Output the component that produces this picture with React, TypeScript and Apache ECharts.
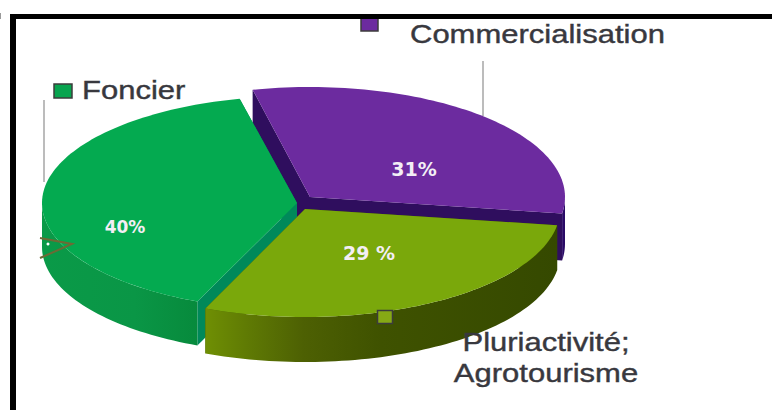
import React, { useEffect, useRef } from "react";
import * as echarts from "echarts";

// Shares of each theme, in the clockwise order they sit around the pie.
const categories = ["Commercialisation", "Pluriactivité;\nAgrotourisme", "Foncier"];
const shares = [31, 29, 40];
const valueLabels = ["31%", "29 %", "40%"];

// Back slices are painted first so the nearer ones overlap them.
const paintOrder = [0, 2, 1];
const firstSliceAngle = -103;

const topColors = ["#6c2b9f", "#7aa80b", "#04aa50"];
const radialColors = ["#2f0e5e", "#3f5200", "#00895a"];
const rimStops = [
  [[0, "#2a0a66"], [1, "#2a0a66"]],
  [[0, "#6f8f04"], [0.12, "#5f7a04"], [0.28, "#4d6003"], [0.5, "#3f5200"], [1, "#354900"]],
  [[0, "#0a9a48"], [0.6, "#0a9646"], [1, "#078a3c"]],
];

// Exploded position and on-screen size of each slice.
const sliceCx = [310, 305, 297];
const sliceCy = [197, 209, 203];
const radiusX = [255, 255, 255];
const radiusY = [110, 108, 107];
const depth = [47, 45, 44];
const labelX = [414, 369, 125];
const labelY = [169, 253, 227];
const labelSize = [19, 19, 17];

function sliceAngles(): [number, number][] {
  const total = shares.reduce((a, b) => a + b, 0);
  let from = firstSliceAngle;
  return shares.map((s) => {
    const to = from + (s / total) * 360;
    const span: [number, number] = [from, to];
    from = to;
    return span;
  });
}

function arcPoints(i: number, a: number, b: number, dy: number): number[][] {
  const pts: number[][] = [];
  const steps = Math.max(2, Math.ceil(Math.abs(b - a) / 1.5));
  for (let k = 0; k <= steps; k++) {
    const t = ((a + ((b - a) * k) / steps) * Math.PI) / 180;
    pts.push([sliceCx[i] + radiusX[i] * Math.cos(t), sliceCy[i] + radiusY[i] * Math.sin(t) + dy]);
  }
  return pts;
}

function renderSlice(params: any, api: any) {
  const i = paintOrder[params.dataIndex];
  const from = api.value(0) as number;
  const to = api.value(1) as number;
  const apex = [sliceCx[i], sliceCy[i]];
  const d = depth[i];
  const children: any[] = [];

  // Cut faces along the two radial edges.
  for (const edge of [from, to]) {
    const rim = arcPoints(i, edge, edge, 0)[0];
    children.push({
      type: "polygon",
      shape: { points: [apex, rim, [rim[0], rim[1] + d], [apex[0], apex[1] + d]] },
      style: { fill: radialColors[i] },
    });
  }

  // Outer wall: only the front half of the ellipse faces the viewer.
  const frontFrom = Math.max(from, 0);
  const frontTo = Math.min(to, 180);
  if (frontTo > frontFrom) {
    const upper = arcPoints(i, frontFrom, frontTo, 0);
    const lower = arcPoints(i, frontFrom, frontTo, d).reverse();
    children.push({
      type: "polygon",
      shape: { points: upper.concat(lower) },
      style: {
        fill: {
          type: "linear",
          x: 0,
          y: 0,
          x2: 1,
          y2: 0,
          colorStops: rimStops[i].map(([offset, color]) => ({ offset, color })),
        },
      },
    });
  }

  // Top surface.
  children.push({
    type: "polygon",
    shape: { points: [apex as number[]].concat(arcPoints(i, from, to, 0)) },
    style: { fill: topColors[i] },
  });

  children.push({
    type: "text",
    x: labelX[i],
    y: labelY[i],
    style: {
      text: valueLabels[i],
      fill: "#f3eef5",
      font: `bold ${labelSize[i]}px "DejaVu Sans", sans-serif`,
      textAlign: "center",
      textVerticalAlign: "middle",
    },
  });

  return { type: "group", children };
}

function legendText(text: string, x: number, y: number, align: string) {
  return {
    type: "text",
    x,
    y,
    z: 20,
    scaleX: 1.24,
    style: {
      text,
      fill: "#38383e",
      stroke: "#38383e",
      lineWidth: 0.4,
      font: '25px "Liberation Sans", Arial, sans-serif',
      lineHeight: 31,
      textAlign: align,
      textVerticalAlign: "middle",
    },
  };
}

function legendSwatch(x: number, y: number, w: number, h: number, fill: string) {
  return {
    type: "rect",
    z: 15,
    shape: { x, y, width: w, height: h },
    style: { fill, stroke: "#3c3c3c", lineWidth: 1.5 },
  };
}

function leader(x: number, y1: number, y2: number) {
  return {
    type: "line",
    z: 5,
    shape: { x1: x, y1, x2: x, y2 },
    style: { stroke: "#bcbcbc", lineWidth: 2 },
  };
}

export default function App() {
  const ref = useRef<HTMLDivElement>(null);

  useEffect(() => {
    if (!ref.current) return;
    const chart = echarts.init(ref.current, undefined, { renderer: "svg" });
    const angles = sliceAngles();
    chart.setOption({
      animation: false,
      backgroundColor: "#ffffff",
      series: [
        {
          type: "custom",
          coordinateSystem: "none",
          silent: true,
          z: 10,
          renderItem: renderSlice,
          data: paintOrder.map((i) => ({ name: categories[i], value: angles[i] })),
        },
      ],
      graphic: {
        elements: [
          // Frame drawn around the figure: only its top and left sides are in view.
          { type: "rect", z: 30, shape: { x: 10, y: 14, width: 762, height: 5 }, style: { fill: "#000000" } },
          { type: "rect", z: 30, shape: { x: 10, y: 14, width: 6, height: 396 }, style: { fill: "#000000" } },
          { type: "rect", z: 30, shape: { x: 0, y: 13, width: 1, height: 6 }, style: { fill: "#9a9a9a" } },

          leader(44, 100, 182),
          leader(483, 61, 116),

          legendSwatch(54, 84, 18, 14, "#08a44f"),
          legendSwatch(361, 15, 17, 16, "#6c2b9f"),
          legendSwatch(377.5, 310.5, 15, 13, "#86a915"),

          legendText(categories[2], 82, 91, "left"),
          legendText(categories[0], 410, 35, "left"),
          legendText(categories[1], 546, 358, "center"),

          // Stray arrow mark on the left edge of the pie.
          {
            type: "polyline",
            z: 18,
            shape: { points: [[40, 238], [72, 244], [40, 258]] },
            style: { stroke: "#6d6a35", lineWidth: 2, fill: "none" },
          },
          { type: "circle", z: 18, shape: { cx: 48, cy: 244, r: 1.5 }, style: { fill: "#ffffff" } },
        ],
      },
    });
    return () => chart.dispose();
  }, []);

  return <div ref={ref} style={{ position: "absolute", left: 0, top: 0, width: 772, height: 410 }} />;
}
